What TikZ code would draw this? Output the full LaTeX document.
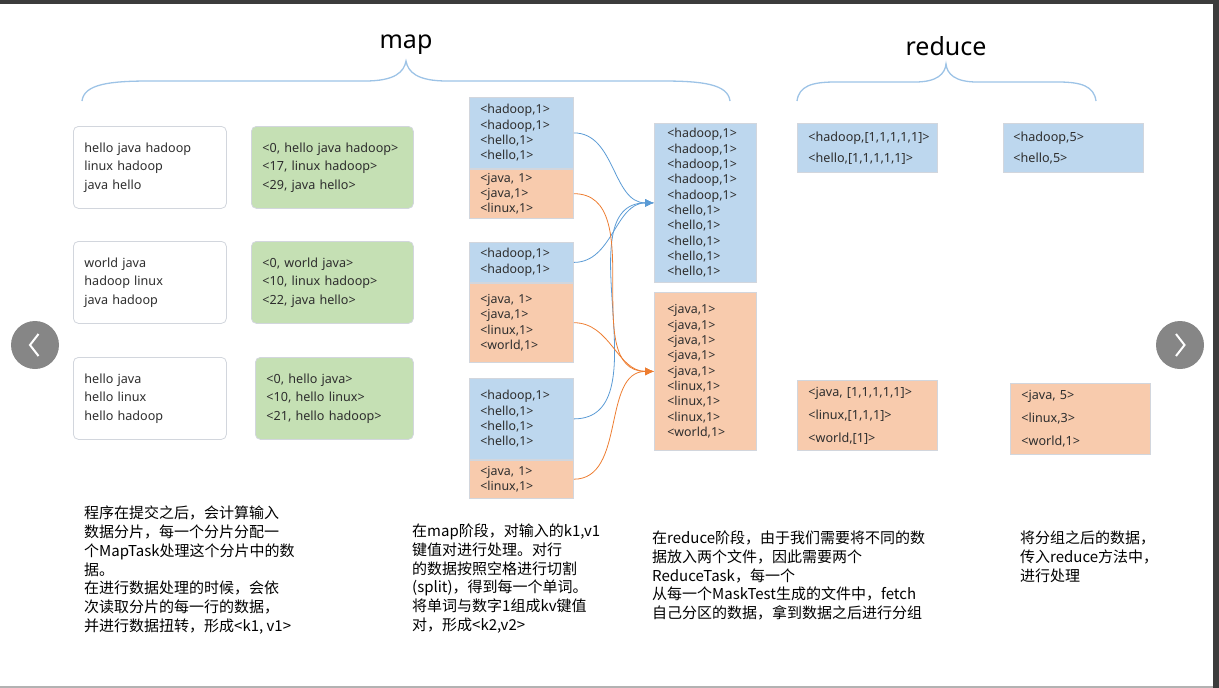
\documentclass[tikz,border=0pt]{standalone}
\usepackage{fontspec}
\setmainfont{Noto Sans}
\newfontfamily\cjk{Noto Sans CJK SC}
\usetikzlibrary{positioning, arrows.meta}
\definecolor{kvblue}{HTML}{BDD7EE}
\definecolor{kvorange}{HTML}{F8CBAD}
\definecolor{kvgreen}{HTML}{C5E0B4}
\definecolor{arrblue}{HTML}{5B9BD5}
\definecolor{arrorange}{HTML}{ED7D31}
\definecolor{bracecol}{HTML}{9DC3E6}
\definecolor{txt}{HTML}{2E2E2E}
\definecolor{edge}{HTML}{D2D6DD}
\definecolor{chrome}{HTML}{3C3C3C}
\tikzstyle{every node}=[text=txt, inner ysep=0pt]
\tikzstyle{box}=[draw=edge, line width=0.8pt, anchor=north west, align=left]
\tikzstyle{raw}=[box, fill=white, rounded corners=5pt, minimum height=82pt,
  inner xsep=11pt, text width=131pt, font=\fontsize{12.6}{18.5}\selectfont]
\tikzstyle{split}=[raw, fill=kvgreen, inner xsep=11pt, text width=140pt]
\tikzstyle{pair}=[box, inner xsep=11pt, text width=82pt, font=\fontsize{12.4}{15.3}\selectfont]
\tikzstyle{group}=[box, inner xsep=11pt, text width=118pt, font=\fontsize{12.6}{21}\selectfont]
\tikzstyle{note}=[anchor=north west, align=left, inner sep=0pt, text=black,
  font=\cjk\fontsize{15}{18.7}\selectfont]
\tikzstyle{brace}=[draw=bracecol, line width=1.3pt]
\tikzstyle{flow}=[line width=0.8pt, -{Latex[length=9pt,width=8pt]}]

\begin{document}
\begin{tikzpicture}[x=1pt, y=-1pt]
  \useasboundingbox (0,0) rectangle (1219,688);
  % page chrome
  \fill[chrome] (0,0) rectangle (1219,3.5);
  \fill[chrome] (1213,0) rectangle (1219,688);
  \fill[gray!60] (0,686) rectangle (1213,688);
  \fill[gray!95!white] (35,345) circle (24pt);
  \fill[gray!95!white] (1180,345) circle (24pt);
  \draw[white, line width=2pt] (38.5,334) -- (30,345) -- (38.5,356);
  \draw[white, line width=2pt] (1176,334) -- (1184.5,345) -- (1176,356);

  % titles and braces
  \node[anchor=base, text=black, font=\fontsize{25}{25}\selectfont] (map) at (406,48) {map};
  \node[anchor=base, text=black, font=\fontsize{25}{25}\selectfont] (reduce) at (946,55) {reduce};
  \draw[brace] (82,101) .. controls (84,84) and (110,81) .. (150,81) -- (365,81)
    .. controls (395,81) and (404,72) .. (406,61) .. controls (408,72) and (417,81) .. (447,81)
    -- (662,81) .. controls (702,81) and (728,84) .. (730,101);
  \draw[brace] (797,101) .. controls (799,86) and (812,82) .. (835,82) -- (915,82)
    .. controls (937,82) and (945,74) .. (946,64) .. controls (947,74) and (955,82) .. (977,82)
    -- (1058,82) .. controls (1081,82) and (1094,86) .. (1096,101);

  % input splits
  \node[raw] (in1) at (73,126) {hello java hadoop\\linux hadoop\\java hello};
  \node[raw] (in2) at (73,241) {world java\\hadoop linux\\java hadoop};
  \node[raw] (in3) at (73,357) {hello java\\hello linux\\hello hadoop};
  \node[split] (kv1) at (251,126) {<0, hello java hadoop>\\<17, linux hadoop>\\<29, java hello>};
  \node[split] (kv2) at (251,241) {<0, world java>\\<10, linux hadoop>\\<22, java hello>};
  \node[split, text width=136pt] (kv3) at (255,357) {<0, hello java>\\<10, hello linux>\\<21, hello hadoop>};

  % map output
  \node[pair, fill=kvblue, minimum height=71pt] (g1b) at (469,97)
    {<hadoop,1>\\<hadoop,1>\\<hello,1>\\<hello,1>};
  \node[pair, fill=kvorange, minimum height=49pt, below=0pt of g1b] (g1o)
    {<java, 1>\\<java,1>\\<linux,1>};
  \node[pair, fill=kvblue, minimum height=40pt] (g2b) at (469,242)
    {<hadoop,1>\\<hadoop,1>};
  \node[pair, fill=kvorange, minimum height=79pt, below=0pt of g2b] (g2o)
    {<java, 1>\\<java,1>\\<linux,1>\\<world,1>};
  \node[pair, fill=kvblue, minimum height=81pt] (g3b) at (469,378)
    {<hadoop,1>\\<hello,1>\\<hello,1>\\<hello,1>};
  \node[pair, fill=kvorange, minimum height=38pt, below=0pt of g3b] (g3o)
    {<java, 1>\\<linux,1>};

  % partitions
  \node[pair, fill=kvblue, minimum height=159pt, inner xsep=13pt, text width=76pt] (hb) at (654,123)
    {<hadoop,1>\\<hadoop,1>\\<hadoop,1>\\<hadoop,1>\\<hadoop,1>\\<hello,1>\\<hello,1>\\<hello,1>\\<hello,1>\\<hello,1>};
  \node[pair, fill=kvorange, minimum height=158pt, inner xsep=13pt, text width=76pt] (jb) at (654,292)
    {<java,1>\\<java,1>\\<java,1>\\<java,1>\\<java,1>\\<linux,1>\\<linux,1>\\<linux,1>\\<world,1>};
  \draw[flow, arrblue] (g1b.east) to[out=0, in=180] (hb.west);
  \draw[flow, arrblue] (g2b.east) to[out=0, in=180] (hb.west);
  \draw[flow, arrblue] (g3b.east) to[out=0, in=180] (hb.west);
  \draw[flow, arrorange] (g1o.east) to[out=0, in=180] (jb.west);
  \draw[flow, arrorange] (g2o.east) to[out=0, in=180] (jb.west);
  \draw[flow, arrorange] (g3o.east) to[out=0, in=180] (jb.west);

  % reduce side
  \node[group, fill=kvblue, minimum height=49pt] (rb) at (797,123)
    {<hadoop,[1,1,1,1,1]>\\<hello,[1,1,1,1,1]>};
  \node[group, fill=kvorange, minimum height=70pt, font=\fontsize{12.6}{23}\selectfont] (ro) at (797,380)
    {<java, [1,1,1,1,1]>\\<linux,[1,1,1]>\\<world,[1]>};
  \node[group, fill=kvblue, minimum height=49pt, inner xsep=10pt, text width=120pt] (fb) at (1003,123)
    {<hadoop,5>\\<hello,5>};
  \node[group, fill=kvorange, minimum height=71pt, font=\fontsize{12.6}{23}\selectfont] (fo) at (1010,383)
    {<java, 5>\\<linux,3>\\<world,1>};

  % notes
  \node[note] (n1) at (84,506) {程序在提交之后，会计算输入\\数据分片，每一个分片分配一\\个MapTask处理这个分片中的数\\据。\\在进行数据处理的时候，会依\\次读取分片的每一行的数据，\\并进行数据扭转，形成<k1, v1>};
  \node[note] (n2) at (412,524) {在map阶段，对输入的k1,v1\\键值对进行处理。对行\\的数据按照空格进行切割\\(split)，得到每一个单词。\\将单词与数字1组成kv键值\\对，形成<k2,v2>};
  \node[note] (n3) at (652,531) {在reduce阶段，由于我们需要将不同的数\\据放入两个文件，因此需要两个\\ReduceTask，每一个\\从每一个MaskTest生成的文件中，fetch\\自己分区的数据，拿到数据之后进行分组};
  \node[note] (n4) at (1020,531) {将分组之后的数据，\\传入reduce方法中，\\进行处理};
\end{tikzpicture}
\end{document}
